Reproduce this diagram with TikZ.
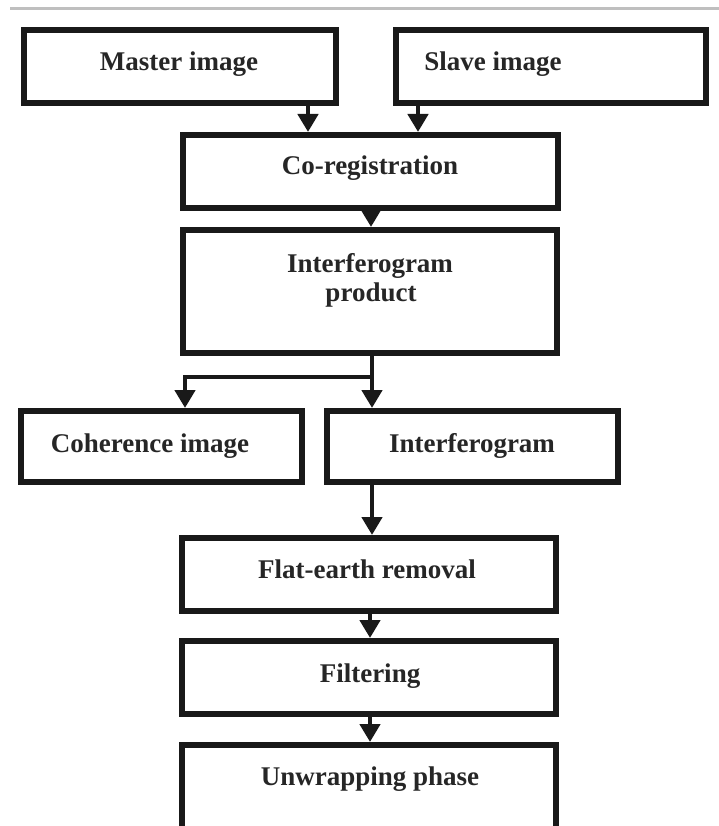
\documentclass[tikz,border=0pt]{standalone}
\usepackage{fontspec}
\setmainfont{Liberation Serif}
\usetikzlibrary{arrows.meta}
\begin{document}
\begin{tikzpicture}[x=1pt,y=-1pt,
  box/.style={draw=black!90, line width=6pt, rectangle, inner sep=0pt},
  lbl/.style={anchor=base, inner sep=0pt, font=\fontsize{27}{30}\selectfont\bfseries, text=black!85},
  conn/.style={draw=black!90, line width=4.5pt, -{Triangle[width=20pt,length=18pt]}},
  linkline/.style={draw=black!90, line width=4.5pt}]
\useasboundingbox (0,0) rectangle (719,826);
\clip (0,0) rectangle (719,826);
\fill[white] (0,0) rectangle (719,826);
\draw[black!25, line width=3pt] (10,9) -- (719,9);
% boxes
\node[box, minimum width=312pt, minimum height=73pt] (master) at (180,66.5) {};
\node[box, minimum width=310pt, minimum height=73pt] (slave) at (551,66.5) {};
\node[box, minimum width=375pt, minimum height=73pt] (coreg) at (370.5,171.5) {};
\node[box, minimum width=374pt, minimum height=123pt] (interpro) at (370,291.5) {};
\node[box, minimum width=281pt, minimum height=71pt] (coher) at (161.5,446.5) {};
\node[box, minimum width=291pt, minimum height=71pt] (interf) at (472.5,446.5) {};
\node[box, minimum width=374pt, minimum height=73pt] (flat) at (369,574.5) {};
\node[box, minimum width=374pt, minimum height=73pt] (filt) at (369,677.5) {};
\node[box, minimum width=374pt, minimum height=120pt] (unwrap) at (369,805) {};
% labels
\node[lbl] (tmaster) at (179,71) {Master image};
\node[lbl] (tslave) at (493,71) {Slave image};
\node[lbl] (tcoreg) at (370,175) {Co-registration};
\node[lbl] (tinter1) at (370,272) {Interferogram};
\node[lbl] (tinter2) at (371,301) {product};
\node[lbl] (tcoher) at (150,452) {Coherence image};
\node[lbl] (tinterf) at (472,452) {Interferogram};
\node[lbl] (tflat) at (367,578) {Flat-earth removal};
\node[lbl] (tfilt) at (370,682) {Filtering};
\node[lbl] (tunwrap) at (370,785) {Unwrapping phase};
% connector x positions
\coordinate (xm) at (308,0);
\coordinate (xs) at (418,0);
\coordinate (xc) at (371,0);
\coordinate (xi) at (372,0);
\coordinate (xl) at (185,0);
\coordinate (yb) at (0,377);
\coordinate (xf) at (370,0);
% connectors
\draw[conn] (master.south -| xm) -- (coreg.north -| xm);
\draw[conn] (slave.south -| xs) -- (coreg.north -| xs);
\draw[conn] (coreg.south -| xc) -- (interpro.north -| xc);
\draw[conn] (interpro.south -| xi) -- (interf.north -| xi);
\draw[conn] (xi |- yb) -- (xl |- yb) -- (coher.north -| xl);
\draw[conn] (interf.south -| xi) -- (flat.north -| xi);
\draw[conn] (flat.south -| xf) -- (filt.north -| xf);
\draw[conn] (filt.south -| xf) -- (unwrap.north -| xf);
\end{tikzpicture}
\end{document}
